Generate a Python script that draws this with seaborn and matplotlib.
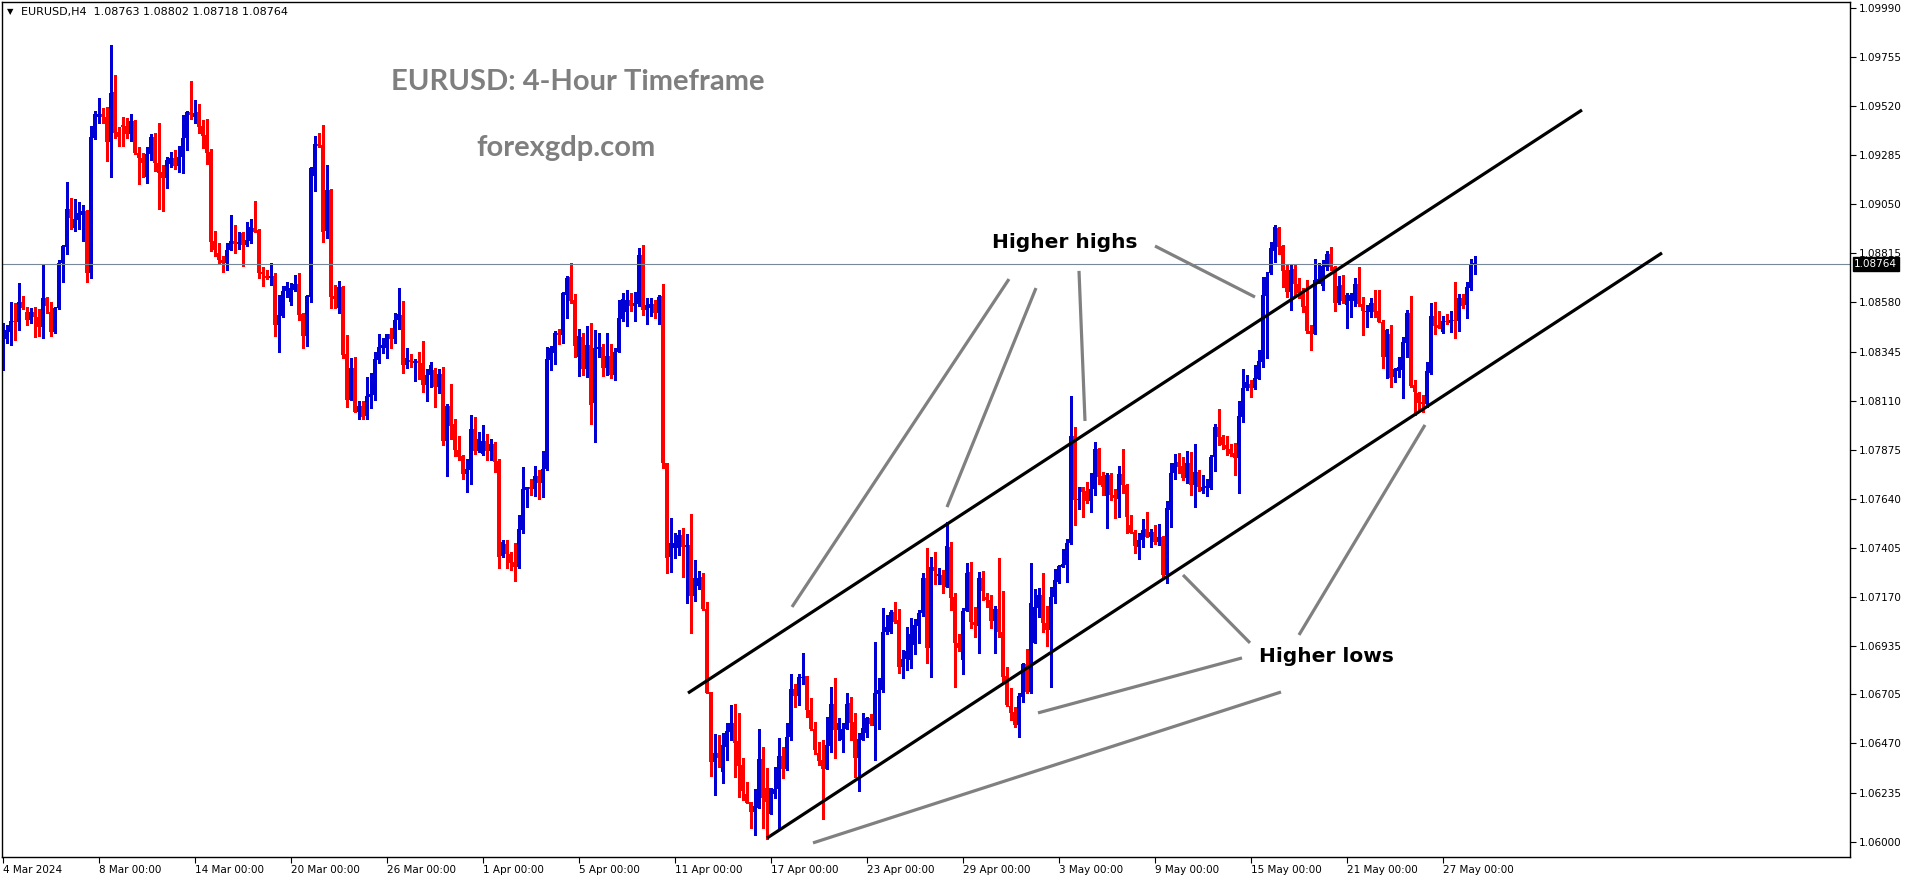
import matplotlib
matplotlib.use("Agg")
import matplotlib.pyplot as plt
import seaborn as sns
import numpy as np
import pandas as pd

# EURUSD H4 candles, 4 Mar 2024 00:00 -> 28 May 2024
opens = [
    1.08273, 1.08404, 1.08441, 1.08492, 1.08488, 1.08582, 1.08536, 1.08496, 1.08536, 1.08512,
    1.08464, 1.08603, 1.08536, 1.08441, 1.08552, 1.08768, 1.08847, 1.09027, 1.08935, 1.08975,
    1.08999, 1.09018, 1.08723, 1.09369, 1.09466, 1.09482, 1.09466, 1.09350, 1.09589, 1.09398,
    1.09429, 1.09425, 1.09385, 1.09450, 1.09294, 1.09273, 1.09182, 1.09291, 1.09374, 1.09249,
    1.09206, 1.09174, 1.09243, 1.09273, 1.09235, 1.09278, 1.09366, 1.09493, 1.09469, 1.09490,
    1.09425, 1.09382, 1.09300, 1.08874, 1.08815, 1.08783, 1.08768, 1.08831, 1.08874, 1.08858,
    1.08911, 1.08855, 1.08874, 1.08935, 1.08927, 1.08728, 1.08707, 1.08696, 1.08707, 1.08473,
    1.08517, 1.08635, 1.08584, 1.08640, 1.08669, 1.08525, 1.08421, 1.08608, 1.09187, 1.09339,
    1.09334, 1.08924, 1.09118, 1.08611, 1.08555, 1.08656, 1.08333, 1.08113, 1.08265, 1.08057,
    1.08085, 1.08037, 1.08129, 1.08137, 1.08305, 1.08364, 1.08361, 1.08429, 1.08404, 1.08496,
    1.08520, 1.08281, 1.08305, 1.08292, 1.08300, 1.08292, 1.08185, 1.08233, 1.08257, 1.08177,
    1.08238, 1.07917, 1.08085, 1.07998, 1.07874, 1.07845, 1.07759, 1.07778, 1.07975, 1.07871,
    1.07855, 1.07917, 1.07871, 1.07903, 1.07821, 1.07367, 1.07424, 1.07376, 1.07340, 1.07313,
    1.07491, 1.07683, 1.07699, 1.07687, 1.07751, 1.07718, 1.07783, 1.08305, 1.08337, 1.08435,
    1.08424, 1.08616, 1.08700, 1.08592, 1.08321, 1.08416, 1.08262, 1.08377, 1.08101, 1.08357,
    1.08369, 1.08268, 1.08324, 1.08233, 1.08345, 1.08501, 1.08536, 1.08592, 1.08563, 1.08573,
    1.08807, 1.08544, 1.08552, 1.08573, 1.08528, 1.08611, 1.07813, 1.07364, 1.07404, 1.07404,
    1.07467, 1.07412, 1.07420, 1.07175, 1.07223, 1.07265, 1.07112, 1.06714, 1.06383, 1.06423,
    1.06335, 1.06455, 1.06526, 1.06566, 1.06482, 1.06367, 1.06226, 1.06191, 1.06144, 1.06163,
    1.06394, 1.06255, 1.06131, 1.06226, 1.06250, 1.06410, 1.06346, 1.06502, 1.06729, 1.06697,
    1.06785, 1.06793, 1.06630, 1.06537, 1.06423, 1.06391, 1.06349, 1.06458, 1.06659, 1.06534,
    1.06486, 1.06537, 1.06665, 1.06574, 1.06402, 1.06486, 1.06518, 1.06590, 1.06555, 1.06707,
    1.06726, 1.07002, 1.07002, 1.07100, 1.07061, 1.06837, 1.06872, 1.06869, 1.06941, 1.07034,
    1.07093, 1.07260, 1.06925, 1.07316, 1.07273, 1.07276, 1.07217, 1.07412, 1.07169, 1.06949,
    1.06869, 1.07105, 1.07292, 1.07053, 1.07034, 1.07260, 1.07169, 1.07156, 1.07057, 1.07112,
    1.07005, 1.06793, 1.06649, 1.06622, 1.06558, 1.06694, 1.06849, 1.06718, 1.06949, 1.07117,
    1.07180, 1.07045, 1.07013, 1.07169, 1.07240, 1.07316, 1.07324, 1.07428, 1.07941, 1.07635,
    1.07695, 1.07680, 1.07632, 1.07686, 1.07877, 1.07750, 1.07654, 1.07755, 1.07659, 1.07638,
    1.07758, 1.07707, 1.07515, 1.07483, 1.07412, 1.07444, 1.07495, 1.07459, 1.07480, 1.07432,
    1.07456, 1.07276, 1.07587, 1.07763, 1.07818, 1.07798, 1.07742, 1.07810, 1.07707, 1.07767,
    1.07680, 1.07694, 1.07691, 1.07839, 1.07986, 1.07938, 1.07898, 1.07879, 1.07858, 1.07837,
    1.08034, 1.08169, 1.08190, 1.08169, 1.08214, 1.08297, 1.08611, 1.08719, 1.08828, 1.08935,
    1.08850, 1.08735, 1.08632, 1.08738, 1.08668, 1.08624, 1.08563, 1.08445, 1.08429, 1.08672,
    1.08659, 1.08748, 1.08812, 1.08748, 1.08576, 1.08662, 1.08568, 1.08589, 1.08589, 1.08668,
    1.08573, 1.08536, 1.08536, 1.08576, 1.08541, 1.08488, 1.08321, 1.08429, 1.08225, 1.08254,
    1.08257, 1.08385, 1.08531, 1.08185, 1.08148, 1.08105, 1.08094, 1.08244, 1.08515, 1.08472,
    1.08440, 1.08491, 1.08483, 1.08496, 1.08493, 1.08603, 1.08568, 1.08648, 1.08763,
]
highs = [
    1.08480, 1.08473, 1.08584, 1.08576, 1.08672, 1.08611, 1.08560, 1.08552, 1.08560, 1.08547,
    1.08763, 1.08608, 1.08584, 1.08560, 1.08783, 1.08855, 1.09158, 1.09082, 1.09075, 1.09063,
    1.09047, 1.09023, 1.09425, 1.09498, 1.09557, 1.09512, 1.09517, 1.09812, 1.09669, 1.09418,
    1.09466, 1.09461, 1.09482, 1.09453, 1.09326, 1.09294, 1.09326, 1.09386, 1.09390, 1.09441,
    1.09238, 1.09278, 1.09302, 1.09310, 1.09329, 1.09477, 1.09496, 1.09642, 1.09549, 1.09530,
    1.09453, 1.09458, 1.09315, 1.08922, 1.08863, 1.08804, 1.08863, 1.08999, 1.08951, 1.08919,
    1.08919, 1.08967, 1.08980, 1.09066, 1.08930, 1.08752, 1.08736, 1.08771, 1.08723, 1.08616,
    1.08659, 1.08677, 1.08672, 1.08712, 1.08720, 1.08528, 1.08616, 1.09230, 1.09377, 1.09393,
    1.09429, 1.09238, 1.09122, 1.08664, 1.08684, 1.08659, 1.08424, 1.08316, 1.08321, 1.08109,
    1.08109, 1.08225, 1.08244, 1.08341, 1.08429, 1.08412, 1.08429, 1.08456, 1.08531, 1.08648,
    1.08587, 1.08364, 1.08333, 1.08309, 1.08345, 1.08396, 1.08262, 1.08294, 1.08268, 1.08262,
    1.08273, 1.08094, 1.08190, 1.08022, 1.07941, 1.07850, 1.07829, 1.08042, 1.08030, 1.07959,
    1.07994, 1.07951, 1.07925, 1.07911, 1.07831, 1.07443, 1.07443, 1.07388, 1.07431, 1.07563,
    1.07794, 1.07699, 1.07735, 1.07797, 1.07778, 1.07869, 1.08365, 1.08373, 1.08443, 1.08451,
    1.08632, 1.08707, 1.08767, 1.08621, 1.08451, 1.08432, 1.08469, 1.08480, 1.08448, 1.08432,
    1.08380, 1.08432, 1.08381, 1.08361, 1.08592, 1.08627, 1.08640, 1.08627, 1.08632, 1.08839,
    1.08855, 1.08600, 1.08600, 1.08592, 1.08616, 1.08668, 1.07813, 1.07547, 1.07475, 1.07491,
    1.07499, 1.07472, 1.07568, 1.07348, 1.07295, 1.07284, 1.07148, 1.06714, 1.06515, 1.06510,
    1.06518, 1.06566, 1.06654, 1.06659, 1.06614, 1.06399, 1.06287, 1.06191, 1.06250, 1.06537,
    1.06451, 1.06351, 1.06255, 1.06359, 1.06494, 1.06455, 1.06566, 1.06802, 1.06754, 1.06802,
    1.06901, 1.06793, 1.06686, 1.06574, 1.06479, 1.06486, 1.06598, 1.06738, 1.06782, 1.06590,
    1.06566, 1.06710, 1.06694, 1.06614, 1.06518, 1.06614, 1.06598, 1.06609, 1.06957, 1.06782,
    1.07116, 1.07085, 1.07108, 1.07148, 1.07112, 1.06917, 1.07026, 1.07072, 1.07065, 1.07108,
    1.07287, 1.07407, 1.07360, 1.07388, 1.07308, 1.07300, 1.07531, 1.07435, 1.07188, 1.06994,
    1.07116, 1.07335, 1.07340, 1.07121, 1.07292, 1.07297, 1.07188, 1.07180, 1.07128, 1.07356,
    1.07201, 1.06838, 1.06734, 1.06646, 1.06713, 1.06857, 1.06920, 1.07332, 1.07208, 1.07212,
    1.07284, 1.07128, 1.07220, 1.07303, 1.07324, 1.07399, 1.07447, 1.08133, 1.07986, 1.07695,
    1.07699, 1.07723, 1.07766, 1.07911, 1.07882, 1.07767, 1.07766, 1.07766, 1.07686, 1.07798,
    1.07877, 1.07711, 1.07563, 1.07491, 1.07475, 1.07543, 1.07579, 1.07495, 1.07515, 1.07520,
    1.07463, 1.07632, 1.07814, 1.07853, 1.07858, 1.07842, 1.07871, 1.07863, 1.07903, 1.07778,
    1.07755, 1.07734, 1.07850, 1.07997, 1.08070, 1.07946, 1.07941, 1.07901, 1.07906, 1.08110,
    1.08260, 1.08233, 1.08209, 1.08281, 1.08353, 1.08703, 1.08727, 1.08871, 1.08951, 1.08943,
    1.08855, 1.08759, 1.08759, 1.08759, 1.08695, 1.08648, 1.08688, 1.08472, 1.08786, 1.08767,
    1.08783, 1.08828, 1.08847, 1.08754, 1.08707, 1.08711, 1.08624, 1.08624, 1.08695, 1.08748,
    1.08605, 1.08568, 1.08600, 1.08640, 1.08640, 1.08496, 1.08451, 1.08472, 1.08265, 1.08321,
    1.08416, 1.08544, 1.08611, 1.08209, 1.08153, 1.08137, 1.08297, 1.08579, 1.08584, 1.08541,
    1.08515, 1.08525, 1.08539, 1.08680, 1.08619, 1.08619, 1.08680, 1.08790, 1.08802,
]
lows = [
    1.08257, 1.08385, 1.08377, 1.08401, 1.08449, 1.08547, 1.08473, 1.08484, 1.08413, 1.08421,
    1.08409, 1.08528, 1.08421, 1.08433, 1.08547, 1.08677, 1.08812, 1.08930, 1.08922, 1.08930,
    1.08876, 1.08680, 1.08696, 1.09361, 1.09441, 1.09441, 1.09257, 1.09182, 1.09369, 1.09331,
    1.09331, 1.09366, 1.09354, 1.09291, 1.09146, 1.09182, 1.09150, 1.09262, 1.09211, 1.09026,
    1.09019, 1.09126, 1.09230, 1.09217, 1.09206, 1.09201, 1.09310, 1.09457, 1.09437, 1.09390,
    1.09318, 1.09241, 1.08828, 1.08804, 1.08768, 1.08728, 1.08736, 1.08831, 1.08815, 1.08834,
    1.08756, 1.08850, 1.08863, 1.08916, 1.08696, 1.08661, 1.08691, 1.08664, 1.08421, 1.08345,
    1.08512, 1.08608, 1.08568, 1.08637, 1.08496, 1.08364, 1.08373, 1.08584, 1.09114, 1.09326,
    1.08871, 1.08890, 1.08555, 1.08555, 1.08528, 1.08313, 1.08081, 1.08113, 1.08057, 1.08021,
    1.08021, 1.08021, 1.08073, 1.08113, 1.08292, 1.08340, 1.08316, 1.08361, 1.08388, 1.08453,
    1.08244, 1.08268, 1.08273, 1.08206, 1.08214, 1.08150, 1.08110, 1.08177, 1.08081, 1.08148,
    1.07898, 1.07751, 1.07927, 1.07845, 1.07826, 1.07735, 1.07675, 1.07711, 1.07855, 1.07866,
    1.07850, 1.07826, 1.07826, 1.07770, 1.07308, 1.07364, 1.07311, 1.07300, 1.07249, 1.07308,
    1.07478, 1.07603, 1.07659, 1.07654, 1.07640, 1.07651, 1.07778, 1.08257, 1.08286, 1.08381,
    1.08388, 1.08507, 1.08579, 1.08321, 1.08228, 1.08233, 1.08225, 1.07998, 1.07914, 1.08321,
    1.08230, 1.08233, 1.08217, 1.08209, 1.08345, 1.08491, 1.08467, 1.08539, 1.08491, 1.08563,
    1.08520, 1.08477, 1.08515, 1.08504, 1.08477, 1.07786, 1.07287, 1.07292, 1.07356, 1.07372,
    1.07268, 1.07140, 1.06997, 1.07153, 1.07207, 1.07108, 1.06710, 1.06316, 1.06223, 1.06359,
    1.06282, 1.06391, 1.06486, 1.06311, 1.06215, 1.06199, 1.06183, 1.06064, 1.06032, 1.06163,
    1.06064, 1.06011, 1.06131, 1.06207, 1.06064, 1.06303, 1.06343, 1.06486, 1.06646, 1.06654,
    1.06753, 1.06598, 1.06534, 1.06419, 1.06367, 1.06107, 1.06349, 1.06431, 1.06402, 1.06486,
    1.06431, 1.06537, 1.06486, 1.06311, 1.06244, 1.06486, 1.06502, 1.06558, 1.06391, 1.06537,
    1.06718, 1.06994, 1.06997, 1.07045, 1.06809, 1.06782, 1.06821, 1.06829, 1.06898, 1.06949,
    1.07080, 1.06857, 1.06786, 1.07233, 1.07233, 1.07188, 1.07217, 1.07108, 1.06742, 1.06914,
    1.06801, 1.07105, 1.07021, 1.06981, 1.06904, 1.07156, 1.07124, 1.07021, 1.06901, 1.06981,
    1.06766, 1.06649, 1.06582, 1.06550, 1.06499, 1.06670, 1.06710, 1.06710, 1.06949, 1.07073,
    1.07005, 1.06938, 1.06742, 1.07140, 1.07236, 1.07313, 1.07244, 1.07424, 1.07515, 1.07590,
    1.07555, 1.07622, 1.07579, 1.07659, 1.07711, 1.07659, 1.07499, 1.07635, 1.07547, 1.07555,
    1.07667, 1.07478, 1.07475, 1.07383, 1.07351, 1.07412, 1.07456, 1.07412, 1.07423, 1.07420,
    1.07260, 1.07239, 1.07507, 1.07735, 1.07763, 1.07731, 1.07715, 1.07659, 1.07603, 1.07680,
    1.07667, 1.07656, 1.07686, 1.07775, 1.07898, 1.07877, 1.07850, 1.07845, 1.07755, 1.07670,
    1.08010, 1.08161, 1.08129, 1.08164, 1.08212, 1.08273, 1.08313, 1.08716, 1.08775, 1.08812,
    1.08656, 1.08608, 1.08544, 1.08608, 1.08600, 1.08536, 1.08435, 1.08353, 1.08429, 1.08672,
    1.08640, 1.08735, 1.08735, 1.08539, 1.08573, 1.08579, 1.08459, 1.08512, 1.08563, 1.08563,
    1.08424, 1.08464, 1.08512, 1.08512, 1.08488, 1.08265, 1.08220, 1.08177, 1.08201, 1.08222,
    1.08121, 1.08321, 1.08177, 1.08042, 1.08065, 1.08057, 1.08081, 1.08236, 1.08427, 1.08456,
    1.08435, 1.08477, 1.08440, 1.08408, 1.08445, 1.08555, 1.08504, 1.08640, 1.08718,
]
closes = [
    1.08401, 1.08449, 1.08492, 1.08487, 1.08584, 1.08555, 1.08496, 1.08536, 1.08512, 1.08464,
    1.08603, 1.08563, 1.08441, 1.08555, 1.08771, 1.08850, 1.09027, 1.08986, 1.08978, 1.09010,
    1.09018, 1.08723, 1.09374, 1.09482, 1.09482, 1.09466, 1.09350, 1.09581, 1.09393, 1.09374,
    1.09421, 1.09385, 1.09450, 1.09294, 1.09273, 1.09249, 1.09291, 1.09374, 1.09249, 1.09201,
    1.09174, 1.09262, 1.09273, 1.09235, 1.09278, 1.09369, 1.09493, 1.09477, 1.09485, 1.09421,
    1.09378, 1.09297, 1.08871, 1.08831, 1.08783, 1.08768, 1.08831, 1.08874, 1.08858, 1.08871,
    1.08855, 1.08879, 1.08943, 1.08919, 1.08723, 1.08716, 1.08696, 1.08707, 1.08473, 1.08520,
    1.08635, 1.08659, 1.08651, 1.08669, 1.08520, 1.08421, 1.08613, 1.09225, 1.09337, 1.09329,
    1.08919, 1.09118, 1.08608, 1.08595, 1.08656, 1.08329, 1.08113, 1.08265, 1.08057, 1.08085,
    1.08034, 1.08132, 1.08142, 1.08309, 1.08369, 1.08377, 1.08429, 1.08404, 1.08496, 1.08525,
    1.08281, 1.08313, 1.08297, 1.08300, 1.08289, 1.08185, 1.08233, 1.08281, 1.08174, 1.08238,
    1.07917, 1.08085, 1.07990, 1.07874, 1.07842, 1.07759, 1.07782, 1.07975, 1.07871, 1.07925,
    1.07917, 1.07871, 1.07903, 1.07818, 1.07364, 1.07435, 1.07376, 1.07335, 1.07313, 1.07496,
    1.07687, 1.07695, 1.07686, 1.07751, 1.07718, 1.07783, 1.08309, 1.08364, 1.08435, 1.08424,
    1.08627, 1.08699, 1.08589, 1.08372, 1.08420, 1.08262, 1.08377, 1.08089, 1.08361, 1.08369,
    1.08268, 1.08324, 1.08233, 1.08345, 1.08507, 1.08597, 1.08592, 1.08563, 1.08579, 1.08807,
    1.08544, 1.08568, 1.08573, 1.08528, 1.08608, 1.07810, 1.07359, 1.07431, 1.07431, 1.07467,
    1.07410, 1.07420, 1.07175, 1.07260, 1.07260, 1.07112, 1.06710, 1.06383, 1.06423, 1.06402,
    1.06463, 1.06530, 1.06566, 1.06471, 1.06362, 1.06242, 1.06183, 1.06144, 1.06171, 1.06394,
    1.06207, 1.06191, 1.06255, 1.06250, 1.06410, 1.06346, 1.06499, 1.06729, 1.06697, 1.06790,
    1.06790, 1.06630, 1.06537, 1.06439, 1.06388, 1.06349, 1.06463, 1.06659, 1.06534, 1.06566,
    1.06537, 1.06659, 1.06569, 1.06402, 1.06490, 1.06542, 1.06593, 1.06561, 1.06713, 1.06726,
    1.07002, 1.07026, 1.07100, 1.07053, 1.06837, 1.06872, 1.06912, 1.06994, 1.07037, 1.07093,
    1.07260, 1.06925, 1.07313, 1.07297, 1.07279, 1.07228, 1.07415, 1.07164, 1.06949, 1.06925,
    1.07105, 1.07287, 1.07053, 1.07037, 1.07260, 1.07201, 1.07156, 1.07057, 1.07112, 1.07005,
    1.06790, 1.06654, 1.06617, 1.06558, 1.06697, 1.06850, 1.06718, 1.07144, 1.07125, 1.07180,
    1.07045, 1.07013, 1.07169, 1.07252, 1.07319, 1.07329, 1.07428, 1.07941, 1.07635, 1.07641,
    1.07675, 1.07632, 1.07686, 1.07877, 1.07743, 1.07699, 1.07755, 1.07659, 1.07643, 1.07758,
    1.07707, 1.07552, 1.07478, 1.07415, 1.07444, 1.07491, 1.07459, 1.07483, 1.07432, 1.07456,
    1.07276, 1.07595, 1.07763, 1.07814, 1.07794, 1.07739, 1.07810, 1.07707, 1.07767, 1.07695,
    1.07695, 1.07702, 1.07839, 1.07986, 1.07935, 1.07898, 1.07879, 1.07853, 1.07837, 1.08037,
    1.08169, 1.08198, 1.08169, 1.08217, 1.08300, 1.08616, 1.08700, 1.08839, 1.08940, 1.08847,
    1.08732, 1.08632, 1.08735, 1.08668, 1.08624, 1.08560, 1.08445, 1.08429, 1.08688, 1.08691,
    1.08754, 1.08812, 1.08748, 1.08576, 1.08659, 1.08589, 1.08616, 1.08616, 1.08668, 1.08573,
    1.08541, 1.08541, 1.08576, 1.08536, 1.08488, 1.08321, 1.08448, 1.08217, 1.08260, 1.08270,
    1.08389, 1.08531, 1.08182, 1.08153, 1.08101, 1.08094, 1.08252, 1.08515, 1.08467, 1.08459,
    1.08491, 1.08485, 1.08496, 1.08493, 1.08600, 1.08563, 1.08652, 1.08763, 1.08764,
]

price_ticks = [1.06000, 1.06235, 1.06470, 1.06705, 1.06935, 1.07170, 1.07405, 1.07640, 1.07875,
               1.08110, 1.08345, 1.08580, 1.08815, 1.09050, 1.09285, 1.09520, 1.09755, 1.09990]
date_bars = [0, 24, 48, 72, 96, 120, 144, 168, 192, 216, 240, 264, 288, 312, 336, 360]
date_labels = ["4 Mar 2024", "8 Mar 00:00", "14 Mar 00:00", "20 Mar 00:00", "26 Mar 00:00",
               "1 Apr 00:00", "5 Apr 00:00", "11 Apr 00:00", "17 Apr 00:00", "23 Apr 00:00",
               "29 Apr 00:00", "3 May 00:00", "9 May 00:00", "15 May 00:00", "21 May 00:00",
               "27 May 00:00"]

# channel lines (bar index, price)
upper_x = [171.25, 394.75]
upper_y = [1.06711, 1.09501]
lower_x = [191.0, 414.75]
lower_y = [1.06017, 1.08817]
# pointer lines from the labels: (x0, y0, x1, y1)
highs_pointers = [(251.5, 1.08692, 197.25, 1.07123),
                  (258.25, 1.08649, 236.0, 1.07601),
                  (269.0, 1.08731, 270.5, 1.08013),
                  (288.0, 1.08850, 313.0, 1.08606)]
lows_pointers = [(311.75, 1.06951, 295.0, 1.07276),
                 (324.0, 1.06989, 355.5, 1.07994),
                 (309.75, 1.06879, 258.75, 1.06616),
                 (319.5, 1.06716, 202.5, 1.05994)]

assert len(opens) == len(highs) == len(lows) == len(closes)

sns.set_theme(style="white")
plt.rcParams['font.family'] = ['DejaVu Sans']

W, H = 1916, 884
fig = plt.figure(figsize=(W / 100, H / 100), dpi=100)
fig.patch.set_facecolor("white")
ax = fig.add_axes([2 / W, 1 - 857 / H, (1850 - 2) / W, (857 - 2) / H])
ax.set_facecolor("white")

df = pd.DataFrame({"open": opens, "high": highs, "low": lows, "close": closes})
df["bar"] = np.arange(len(df))
up = df["close"] >= df["open"]
colors = np.where(up, "#0000d4", "#ff0000")

ax.vlines(df["bar"], df["low"], df["high"], colors=colors, linewidth=0.75, antialiased=False)
body_lo = df[["open", "close"]].min(axis=1)
body_h = (df["close"] - df["open"]).abs().clip(lower=0.00004)
ax.bar(df["bar"], body_h, bottom=body_lo, width=0.8, color=colors, linewidth=0,
       antialiased=False)

# current price line
ax.axhline(closes[-1], color="#778899", lw=0.8)

# channel
ax.plot(upper_x, upper_y, color="black", lw=2.3, solid_capstyle="butt")
ax.plot(lower_x, lower_y, color="black", lw=2.3, solid_capstyle="butt")
for x0, y0, x1, y1 in highs_pointers + lows_pointers:
    ax.plot([x0, x1], [y0, y1], color="#808080", lw=2.3, solid_capstyle="butt")

ax.text(247.25, 1.08865, "Higher highs", fontsize=14.5, fontweight="bold", color="black",
        ha="left", va="center")
ax.text(314.0, 1.06884, "Higher lows", fontsize=14.5, fontweight="bold", color="black",
        ha="left", va="center")

ax.set_xlim(-0.25, 461.75)
ax.set_ylim(1.059265, 1.100177)

ax.yaxis.tick_right()
ax.set_yticks(price_ticks)
ax.set_yticklabels([f"{v:.5f}" for v in price_ticks])
ax.set_xticks(date_bars)
ax.set_xticklabels(date_labels, ha="left")
ax.tick_params(axis="both", direction="out", length=4, width=0.8, colors="black",
               labelsize=7.5, pad=2)
ax.tick_params(axis="x", bottom=True, top=False)
ax.tick_params(axis="y", right=True, left=False, labelright=True, labelleft=False)
for s in ax.spines.values():
    s.set_visible(True)
    s.set_color("black")
    s.set_linewidth(1.0)
ax.grid(False)

# last price box on the axis
ax.text(1.0022, closes[-1], f"{closes[-1]:.5f}", transform=ax.get_yaxis_transform(),
        fontsize=7.5, color="white", ha="left", va="center", clip_on=False, zorder=10,
        bbox=dict(boxstyle="square,pad=0.15", fc="black", ec="black"))

# header and labels
fig.text(7 / W, 1 - 12 / H, "\u25bc", fontsize=6, color="black", va="center")
fig.text(21 / W, 1 - 12 / H, "EURUSD,H4  1.08763 1.08802 1.08718 1.08764", fontsize=8,
         color="black", va="center")
fig.text(391 / W, 1 - 82 / H, "EURUSD: 4-Hour Timeframe", fontsize=21, fontweight="bold",
         family=["Lato", "DejaVu Sans"], color="#7f7f7f", va="center")
fig.text(476 / W, 1 - 148 / H, "forexgdp.com", fontsize=21, fontweight="bold",
         family=["Lato", "DejaVu Sans"], color="#7f7f7f", va="center")

fig.savefig("out.png", dpi=100, facecolor="white")
